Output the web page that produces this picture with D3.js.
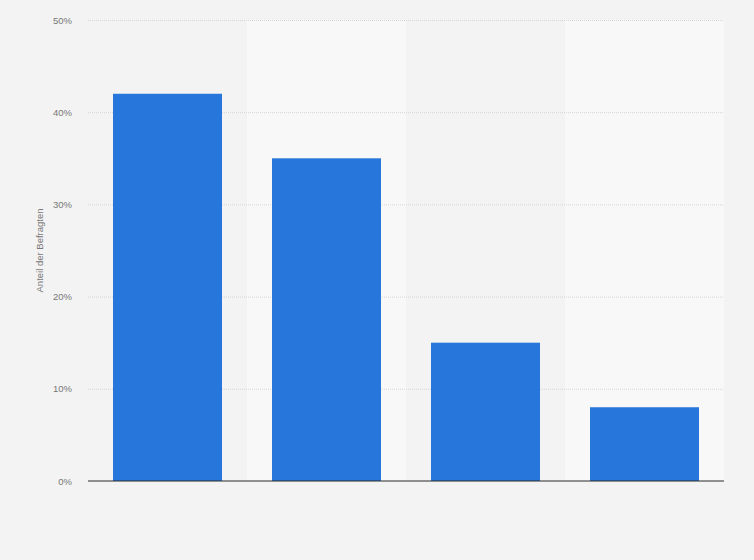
<!DOCTYPE html>
<html>
<head>
<meta charset="utf-8">
<script src="https://cdn.jsdelivr.net/npm/d3@7"></script>
<style>
  html, body { margin: 0; padding: 0; background: #f3f3f3; }
  svg { display: block; font-family: "Liberation Sans", Arial, sans-serif; }
</style>
</head>
<body>
<div id="chart"></div>
<script>
// values
const categories = ['A', 'B', 'C', 'D'];
const shares = [42, 35, 15, 8];
const yTicks = [0, 10, 20, 30, 40, 50];

const width = 754;
const height = 560;
const margin = { top: 20, right: 30, bottom: 79, left: 88 };

const svg = d3.select('#chart')
  .append('svg')
  .attr('width', width)
  .attr('height', height);

svg.append('rect')
  .attr('width', width)
  .attr('height', height)
  .attr('fill', '#f3f3f3');

const x = d3.scaleBand()
  .domain(categories)
  .range([margin.left, width - margin.right])
  .paddingInner(0)
  .paddingOuter(0);

const y = d3.scaleLinear()
  .domain([0, 50])
  .range([height - margin.bottom, margin.top]);

// alternating column bands
svg.append('g')
  .selectAll('rect')
  .data(categories)
  .join('rect')
  .attr('x', d => x(d))
  .attr('y', margin.top)
  .attr('width', x.bandwidth())
  .attr('height', y(0) - margin.top)
  .attr('fill', (d, i) => i % 2 === 1 ? '#f8f8f8' : 'none');

// grid lines
svg.append('g')
  .selectAll('line')
  .data(yTicks.filter(d => d > 0))
  .join('line')
  .attr('x1', margin.left)
  .attr('x2', width - margin.right)
  .attr('y1', d => y(d) + 0.5)
  .attr('y2', d => y(d) + 0.5)
  .attr('stroke', '#d6d6d6')
  .attr('stroke-width', 1)
  .attr('stroke-dasharray', '1,1');

// y axis labels
const yAxis = d3.axisLeft(y)
  .tickValues(yTicks)
  .tickSize(0)
  .tickPadding(16)
  .tickFormat(d => d + '%');

svg.append('g')
  .attr('transform', `translate(${margin.left},0)`)
  .call(yAxis)
  .call(g => g.select('.domain').remove())
  .call(g => g.selectAll('text')
    .attr('fill', '#777')
    .attr('font-size', '9.5px'));

// bars
const barW = 109;
svg.append('g')
  .selectAll('rect')
  .data(shares)
  .join('rect')
  .attr('x', (d, i) => x(categories[i]) + (x.bandwidth() - barW) / 2)
  .attr('y', d => y(d))
  .attr('width', barW)
  .attr('height', d => y(0) - y(d))
  .attr('fill', '#2776db');

// base line
svg.append('line')
  .attr('x1', margin.left)
  .attr('x2', width - margin.right)
  .attr('y1', y(0))
  .attr('y2', y(0))
  .attr('stroke', '#2b2b2b')
  .attr('stroke-width', 1.2);

// y axis title
svg.append('text')
  .attr('transform', `translate(43,${(y(0) + y(50)) / 2}) rotate(-90)`)
  .attr('text-anchor', 'middle')
  .attr('fill', '#777')
  .attr('font-size', '9.5px')
  .text('Anteil der Befragten');
</script>
</body>
</html>
